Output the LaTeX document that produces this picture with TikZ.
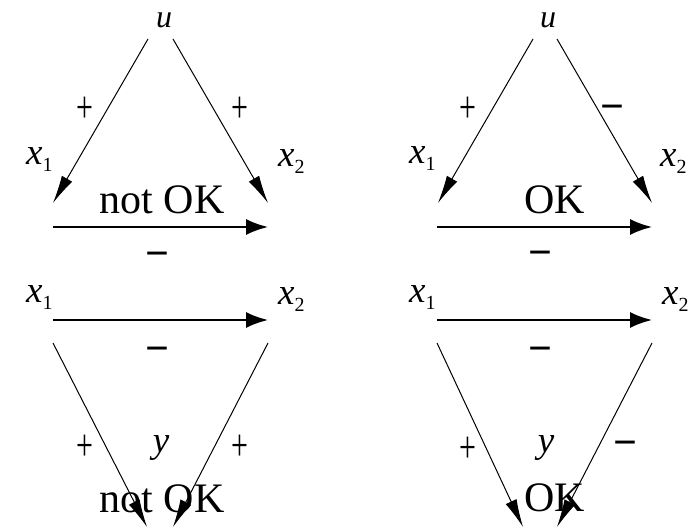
\documentclass[tikz,border=0pt]{standalone}
\usepackage{fontspec}
\setmainfont{Liberation Serif}
\usetikzlibrary{arrows.meta}
\newcommand{\varsub}[2]{\textit{#1}\raisebox{-7pt}{\fontsize{20}{20}\selectfont #2}}
\newcommand{\tallplus}{\scalebox{1}[1.5]{+}}
\tikzset{
  lbl/.style={inner sep=0pt,font=\fontsize{37}{38}\selectfont},
  toplbl/.style={inner sep=0pt,anchor=base,text height=0.5em,text depth=0pt,font=\fontsize{32}{32}\selectfont},
  verdict/.style={inner sep=0pt,anchor=base,font=\fontsize{42}{44}\selectfont},
  plussign/.style={inner sep=0pt,font=\fontsize{30}{31}\selectfont},
  minussign/.style={inner sep=0pt,yshift=-7pt,font=\fontsize{42}{44}\selectfont\bfseries},
  slant/.style={line width=1pt,-{Latex[length=28pt,width=12pt]}},
  flat/.style={line width=2pt,-{Latex[length=22pt,width=16pt]}}
}
\begin{document}
\begin{tikzpicture}[x=1pt,y=-1pt]
  \useasboundingbox (0,0) rectangle (688,529);
  % top left
  \node[toplbl] (uA) at (164,28) {\textit{u}};
  \node[lbl,anchor=base west] (xoneA) at (26,165) {\varsub{x}{1}};
  \node[lbl,anchor=base west] (xtwoA) at (278,167) {\varsub{x}{2}};
  \node[verdict] (okA) at (162,214) {not OK};
  \node[plussign] (pA1) at (85,110) {\tallplus};
  \node[plussign] (pA2) at (240,110) {\tallplus};
  \node[minussign] (mA) at (157,253) {−};
  \coordinate (uA1) at (148,39);  \coordinate (xA1) at (53,203);
  \coordinate (uA2) at (173,39);  \coordinate (xA2) at (268,203);
  \coordinate (hA1) at (53,227);  \coordinate (hA2) at (268,227);
  \draw[slant] (uA1) -- (xA1);
  \draw[slant] (uA2) -- (xA2);
  \draw[flat] (hA1) -- (hA2);
  % top right
  \node[toplbl] (uB) at (548,28) {\textit{u}};
  \node[lbl,anchor=base west] (xoneB) at (409,164) {\varsub{x}{1}};
  \node[lbl,anchor=base west] (xtwoB) at (660,167) {\varsub{x}{2}};
  \node[verdict] (okB) at (555,214) {OK};
  \node[plussign] (pB1) at (468,110) {\tallplus};
  \node[minussign] (mB1) at (612,106) {−};
  \node[minussign] (mB2) at (540,252) {−};
  \coordinate (uB1) at (533,39);  \coordinate (xB1) at (438,203);
  \coordinate (uB2) at (557,39);  \coordinate (xB2) at (652,203);
  \coordinate (hB1) at (437,227); \coordinate (hB2) at (652,227);
  \draw[slant] (uB1) -- (xB1);
  \draw[slant] (uB2) -- (xB2);
  \draw[flat] (hB1) -- (hB2);
  % bottom left
  \node[lbl,anchor=base west] (xoneC) at (26,303) {\varsub{x}{1}};
  \node[lbl,anchor=base west] (xtwoC) at (278,305) {\varsub{x}{2}};
  \node[lbl,anchor=base] (yC) at (161,452) {\textit{y}};
  \node[verdict] (okC) at (162,512) {not OK};
  \node[plussign] (pC1) at (85,448) {\tallplus};
  \node[plussign] (pC2) at (240,448) {\tallplus};
  \node[minussign] (mC) at (157,348) {−};
  \coordinate (hC1) at (53,320);  \coordinate (hC2) at (268,320);
  \coordinate (xC1) at (53,343);  \coordinate (yC1) at (147,527);
  \coordinate (xC2) at (268,343); \coordinate (yC2) at (173,527);
  \draw[flat] (hC1) -- (hC2);
  \draw[slant] (xC1) -- (yC1);
  \draw[slant] (xC2) -- (yC2);
  % bottom right
  \node[lbl,anchor=base west] (xoneD) at (409,303) {\varsub{x}{1}};
  \node[lbl,anchor=base west] (xtwoD) at (662,305) {\varsub{x}{2}};
  \node[lbl,anchor=base] (yD) at (546,452) {\textit{y}};
  \node[verdict] (okD) at (555,511) {OK};
  \node[plussign] (pD1) at (468,450) {\tallplus};
  \node[minussign] (mD1) at (625,442) {−};
  \node[minussign] (mD2) at (540,348) {−};
  \coordinate (hD1) at (437,320); \coordinate (hD2) at (652,320);
  \coordinate (xD1) at (437,343); \coordinate (yD1) at (523,527);
  \coordinate (xD2) at (652,343); \coordinate (yD2) at (557,527);
  \draw[flat] (hD1) -- (hD2);
  \draw[slant] (xD1) -- (yD1);
  \draw[slant] (xD2) -- (yD2);
\end{tikzpicture}
\end{document}
